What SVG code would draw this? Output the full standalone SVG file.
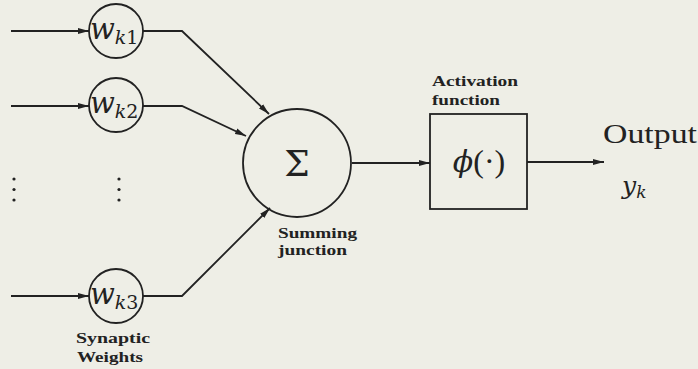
<svg xmlns="http://www.w3.org/2000/svg" width="698" height="369" viewBox="0 0 698 369">
<defs>
<marker id="ah" markerUnits="userSpaceOnUse" markerWidth="12" markerHeight="8" refX="11" refY="4" orient="auto">
<path d="M0,1 L11,4 L0,7 Z" fill="#222"/>
</marker>
<style>
.ln{fill:none;stroke:#222;stroke-width:1.8}
.nd{fill:none;stroke:#222;stroke-width:1.8}
.mi{font-family:"DejaVu Serif",serif;font-style:italic;fill:#222}
.rm{font-family:"DejaVu Serif",serif;font-style:normal;fill:#222}
.op{font-family:"Liberation Serif",serif;fill:#222}
.lb{font-family:"Liberation Serif",serif;font-weight:bold;font-size:14.5px;fill:#222}
.dot{fill:#222}
</style>
</defs>
<rect width="698" height="369" fill="#eeeee6"/>

<g id="connectors">
<line class="ln" x1="11" y1="31" x2="89" y2="31" marker-end="url(#ah)"/>
<line class="ln" x1="11" y1="106" x2="89" y2="106" marker-end="url(#ah)"/>
<line class="ln" x1="11" y1="296" x2="89" y2="296" marker-end="url(#ah)"/>
<polyline class="ln" points="143,31 182,31 269,114" marker-end="url(#ah)"/>
<polyline class="ln" points="143,106 182,106 246,136" marker-end="url(#ah)"/>
<polyline class="ln" points="143,296 182,296 270,208" marker-end="url(#ah)"/>
<line class="ln" x1="352" y1="163" x2="430" y2="163" marker-end="url(#ah)"/>
<line class="ln" x1="527" y1="162" x2="604" y2="162" marker-end="url(#ah)"/>
</g>

<g id="w_k1">
<circle class="nd" cx="116" cy="31" r="27"/>
<text class="mi" x="90" y="39" font-size="29">w<tspan font-size="19" dy="5">k</tspan><tspan class="rm" font-size="19">1</tspan></text>
</g>

<g id="w_k2">
<circle class="nd" cx="116" cy="105" r="27"/>
<text class="mi" x="90" y="113" font-size="29">w<tspan font-size="19" dy="5">k</tspan><tspan class="rm" font-size="19">2</tspan></text>
</g>

<g id="w_k3">
<circle class="nd" cx="116" cy="296" r="27"/>
<text class="mi" x="90" y="304" font-size="29">w<tspan font-size="19" dy="5">k</tspan><tspan class="rm" font-size="19">3</tspan></text>
<text class="lb" x="76" y="343" textLength="74" lengthAdjust="spacingAndGlyphs">Synaptic</text>
<text class="lb" x="77" y="362" textLength="66" lengthAdjust="spacingAndGlyphs">Weights</text>
</g>

<g id="dots">
<circle class="dot" cx="14" cy="179" r="1.6"/>
<circle class="dot" cx="14" cy="189.5" r="1.6"/>
<circle class="dot" cx="14" cy="200" r="1.6"/>
<circle class="dot" cx="119" cy="179" r="1.6"/>
<circle class="dot" cx="119" cy="189.5" r="1.6"/>
<circle class="dot" cx="119" cy="200" r="1.6"/>
</g>

<g id="sum">
<circle class="nd" cx="297" cy="163" r="54"/>
<text class="rm" x="297" y="176" font-size="36" text-anchor="middle">Σ</text>
<text class="lb" x="278" y="238" textLength="79" lengthAdjust="spacingAndGlyphs">Summing</text>
<text class="lb" x="278" y="255" textLength="69" lengthAdjust="spacingAndGlyphs">junction</text>
</g>

<g id="activation">
<rect class="nd" x="430" y="114" width="97" height="95"/>
<text x="479" y="172" font-size="30" text-anchor="middle"><tspan class="mi">ϕ</tspan><tspan class="op" font-size="32">(·)</tspan></text>
<text class="lb" x="432" y="86" textLength="86" lengthAdjust="spacingAndGlyphs">Activation</text>
<text class="lb" x="432" y="105" textLength="68" lengthAdjust="spacingAndGlyphs">function</text>
</g>

<g id="output">
<text class="op" x="603" y="143" font-size="27" textLength="94" lengthAdjust="spacingAndGlyphs">Output</text>
<text class="mi" x="622" y="194" font-size="25">y<tspan font-size="17" dy="4">k</tspan></text>
</g>
</svg>
